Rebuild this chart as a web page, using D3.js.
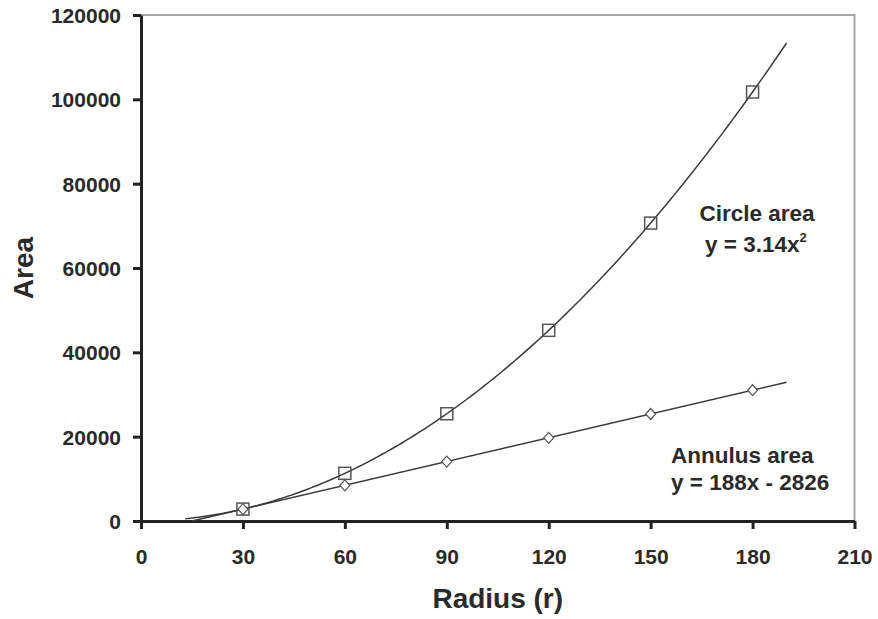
<!DOCTYPE html>
<html>
<head>
<meta charset="utf-8">
<script src="https://cdn.jsdelivr.net/npm/d3@7"></script>
<style>
  html, body { margin: 0; padding: 0; background: #fff; }
  svg { display: block; font-family: "Liberation Sans", Arial, sans-serif; }
</style>
</head>
<body>
<svg id="chart" width="878" height="619"></svg>
<script>
// Radii sampled and the areas measured at each radius
const radii = [30, 60, 90, 120, 150, 180];
const circleArea = [2826, 11304, 25434, 45216, 70650, 101736];
const annulusArea = [2814, 8454, 14094, 19734, 25374, 31014];

// Fitted trend lines: y = a*x^2 and y = m*x + b
const circleCoef = 3.14;
const annulusSlope = 188;
const annulusIntercept = -2826;
const circleRange = [13, 190];
const annulusRange = [15, 190];

const xTicks = [0, 30, 60, 90, 120, 150, 180, 210];
const yTicks = [0, 20000, 40000, 60000, 80000, 100000, 120000];

const svg = d3.select("#chart");
const plotLeft = 141, plotRight = 854.5, plotTop = 15, plotBottom = 521;

const x = d3.scaleLinear().domain([0, 210]).range([plotLeft, plotRight]);
const y = d3.scaleLinear().domain([0, 120000]).range([plotBottom, plotTop]);

const ink = "#222";

// Light frame on top and right
svg.append("path")
  .attr("d", `M${plotLeft},${plotTop}H${plotRight}V${plotBottom}`)
  .attr("fill", "none")
  .attr("stroke", "#a6a6a6")
  .attr("stroke-width", 2);

// Axes
const xAxis = svg.append("g")
  .attr("transform", `translate(0,${plotBottom})`)
  .call(d3.axisBottom(x).tickValues(xTicks).tickSize(8).tickSizeOuter(0).tickPadding(20));
const yAxis = svg.append("g")
  .attr("transform", `translate(${plotLeft},0)`)
  .call(d3.axisLeft(y).tickValues(yTicks).tickSize(8).tickSizeOuter(0).tickPadding(12)
    .tickFormat(d3.format("d")));

[xAxis, yAxis].forEach(g => {
  g.select(".domain").attr("stroke", ink).attr("stroke-width", 3);
  g.selectAll(".tick line").attr("stroke", ink).attr("stroke-width", 3);
  g.selectAll(".tick text")
    .attr("fill", "#2a2a2a")
    .attr("font-size", 21)
    .attr("font-weight", "bold")
    .attr("font-family", "'Liberation Sans', Arial, sans-serif");
});
yAxis.selectAll(".tick text").attr("dy", "0.36em");

// Trend lines
const circleFit = d3.range(circleRange[0], circleRange[1] + 0.01, 1)
  .map(r => [r, circleCoef * r * r]);
const annulusFit = annulusRange.map(r => [r, annulusSlope * r + annulusIntercept]);

const line = d3.line().x(d => x(d[0])).y(d => y(d[1])).curve(d3.curveMonotoneX);

svg.append("path")
  .datum(circleFit)
  .attr("d", line)
  .attr("fill", "none")
  .attr("stroke", "#3a3a3a")
  .attr("stroke-width", 1.5);

svg.append("path")
  .datum(annulusFit)
  .attr("d", d3.line().x(d => x(d[0])).y(d => y(d[1])))
  .attr("fill", "none")
  .attr("stroke", "#3a3a3a")
  .attr("stroke-width", 1.5);

// Markers: diamonds for the annulus, squares for the circle
svg.append("g").selectAll("path")
  .data(radii.map((r, i) => [r, annulusArea[i]]))
  .join("path")
  .attr("transform", d => `translate(${x(d[0])},${y(d[1])})`)
  .attr("d", "M0,-5.5L5,0L0,5.5L-5,0Z")
  .attr("fill", "#fff")
  .attr("stroke", "#555")
  .attr("stroke-width", 1.2);

svg.append("g").selectAll("rect")
  .data(radii.map((r, i) => [r, circleArea[i]]))
  .join("rect")
  .attr("x", d => x(d[0]) - 6)
  .attr("y", d => y(d[1]) - 6)
  .attr("width", 12)
  .attr("height", 12)
  .attr("fill", "none")
  .attr("stroke", "#555")
  .attr("stroke-width", 1.5);

// Equation labels
const labelStyle = sel => sel
  .attr("font-size", 22.5)
  .attr("font-weight", "bold")
  .attr("fill", "#2a2a2a");

svg.append("text").call(labelStyle)
  .attr("x", 757).attr("y", 221).attr("text-anchor", "middle")
  .text("Circle area");
const eq1 = svg.append("text").call(labelStyle)
  .attr("x", 705).attr("y", 252);
eq1.append("tspan").text("y = 3.14x");
eq1.append("tspan").attr("font-size", 13).attr("dy", -10).text("2");

svg.append("text").call(labelStyle)
  .attr("x", 671).attr("y", 463)
  .text("Annulus area");
svg.append("text").call(labelStyle)
  .attr("x", 671).attr("y", 490)
  .text("y = 188x - 2826");

// Axis titles
svg.append("text")
  .attr("x", (plotLeft + plotRight) / 2).attr("y", 608)
  .attr("text-anchor", "middle")
  .attr("font-size", 28).attr("font-weight", "bold").attr("fill", "#2a2a2a")
  .text("Radius (r)");

svg.append("text")
  .attr("transform", "translate(33,268) rotate(-90)")
  .attr("text-anchor", "middle")
  .attr("font-size", 28).attr("font-weight", "bold").attr("fill", "#2a2a2a")
  .text("Area");
</script>
</body>
</html>
